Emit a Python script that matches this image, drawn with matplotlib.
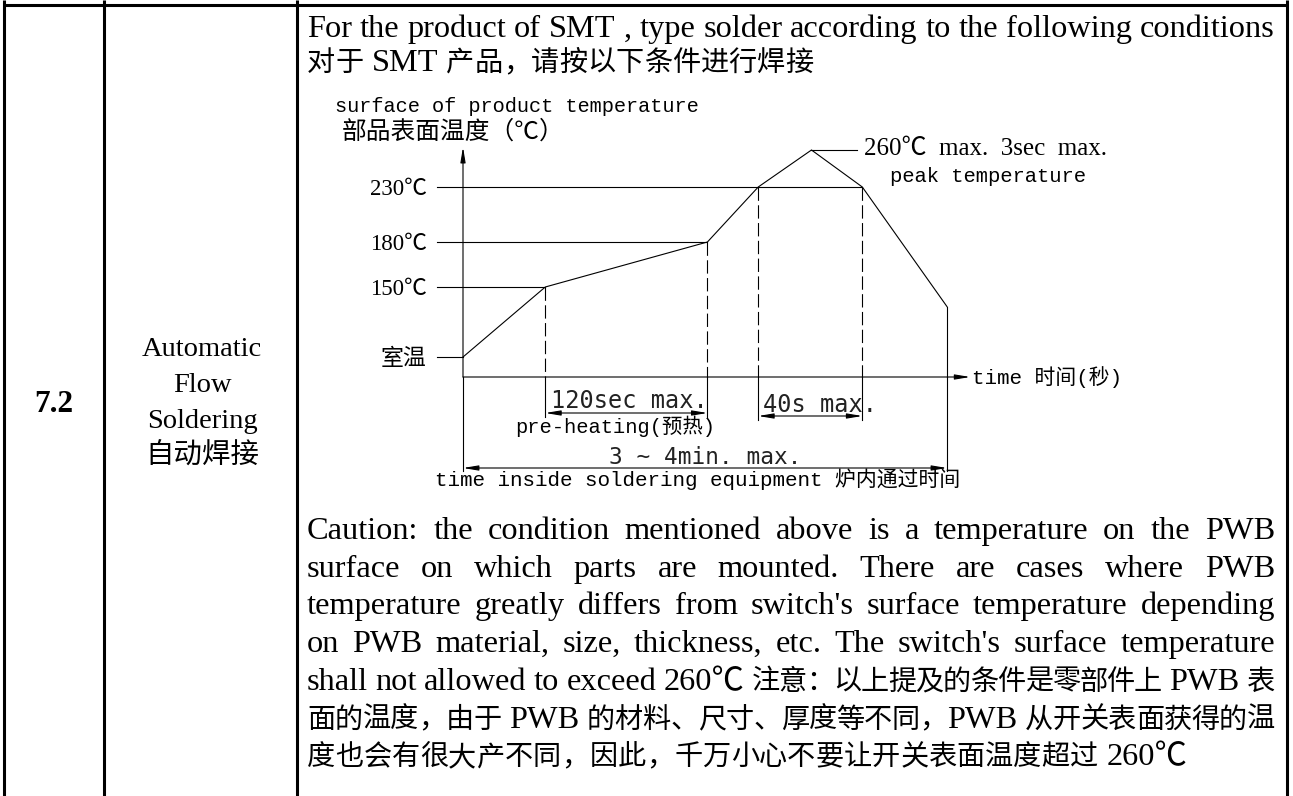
import re
import numpy as np
import matplotlib
matplotlib.use('Agg')
import matplotlib.pyplot as plt
import matplotlib.transforms as mtransforms

# reflow profile: schematic time units (0..100) and temperature (degC)
prof_t = [0, 17, 50.5, 61, 72, 82.5, 100]
prof_T = [25, 150, 180, 230, 260, 230, 115]
level_T = [25, 150, 180, 230]
level_labels = ['室温', '150℃', '180℃', '230℃']
drop_idx = [1, 2, 3, 5]          # points with dashed drop lines
dim_spans = [(17, 50.5), (61, 82.5), (0, 100)]
dim_labels = ['120sec max.', '40s max.', '3 ~ 4min. max.']

# the drawing is not to scale: temperature -> drawn height
scale_T = [0, 25, 150, 180, 230, 260, 300]
scale_h = [0, 20, 90, 135, 190, 227, 276]

header_en = "For the product of SMT , type solder according to the following conditions"
header_cn = "对于 SMT 产品，请按以下条件进行焊接"
caution = [
    "Caution: the condition mentioned above is a temperature on the PWB",
    "surface on which parts are mounted. There are cases where PWB",
    "temperature greatly differs from switch's surface temperature depending",
    "on PWB material, size, thickness, etc. The switch's surface temperature",
    "shall not allowed to exceed 260℃  注意：以上提及的条件是零部件上 PWB 表",
    "面的温度，由于 PWB 的材料、尺寸、厚度等不同，PWB 从开关表面获得的温",
    "度也会有很大产不同，因此，千万小心不要让开关表面温度超过 260℃",
]
left_labels = ['Automatic', 'Flow', 'Soldering', '自动焊接']

W, H = 1293, 796
serif = ['Liberation Serif', 'Noto Sans CJK SC']
mono = ['Liberation Mono', 'Noto Sans CJK SC']
cad = ['DejaVu Sans Mono', 'Noto Sans CJK SC']
cjk = ['Noto Sans CJK SC']

fig = plt.figure(figsize=(W / 100, H / 100), dpi=100)
page = fig.add_axes([0, 0, 1, 1])
page.set_xlim(0, W)
page.set_ylim(H, 0)
page.axis('off')
r = fig.canvas.get_renderer()

# table grid
for x in [4, 104, 297, 1287]:
    page.plot([x, x], [0, H], color='black', lw=2.2, solid_capstyle='butt')
page.plot([4, 1287], [5, 5], color='black', lw=2.2, solid_capstyle='butt')

page.text(54, 405, '7.2', fontsize=22.5, fontweight='bold', family=serif,
          ha='center', va='center')
for lab, y in zip(left_labels, [349, 385, 421, 457]):
    page.text(202, y, lab, fontsize=20.5, family=serif, ha='center', va='center')

CJK = r'[\u3000-\u303f\u4e00-\u9fff\uff00-\uffef]'
LAT, HAN = 23.3, 20.3


def justify(base, line, x0=307, x1=1275, fill=True):
    toks = []
    for word in line.split(' '):
        if not word:
            continue
        parts = re.findall(CJK + '|(?:(?!' + CJK + ').)+', word)
        for pi, p in enumerate(parts):
            toks.append((p, pi == 0 and len(toks) > 0))
    sp = page.text(0, 0, 'a a', fontsize=LAT, family=serif)
    sa = page.text(0, 0, 'aa', fontsize=LAT, family=serif)
    space = sp.get_window_extent(r).width - sa.get_window_extent(r).width
    sp.remove()
    sa.remove()
    objs = []
    for t, _ in toks:
        han = re.fullmatch(CJK, t) is not None
        objs.append(page.text(0, base, t, fontsize=HAN if han else LAT,
                              family=cjk if han else serif, va='baseline'))
    widths = [o.get_window_extent(r).width for o in objs]
    gaps = [space if s else 0 for _, s in toks]
    extra = (x1 - x0) - sum(widths) - sum(gaps)
    add = extra / (len(toks) - 1) if fill and len(toks) > 1 else 0
    x = x0
    for o, w, g in zip(objs, widths, gaps):
        if x > x0:
            x += g + add
        o.set_x(x)
        x += w


justify(37, header_en)
justify(71, header_cn, fill=False)
for i, line in enumerate(caution):
    justify(539 + i * 37.7, line, fill=(i < len(caution) - 1))

# chart
ax = fig.add_axes([463 / W, (H - 377) / H, 484 / W, 227 / H])
ax.set_xlim(0, 100)
ax.set_yscale('function', functions=(lambda v: np.interp(v, scale_T, scale_h),
                                     lambda v: np.interp(v, scale_h, scale_T)))
ax.set_ylim(0, 260)
ax.patch.set_visible(False)
for s in ax.spines.values():
    s.set_visible(False)
ax.set_xticks([])
ax.set_yticks(level_T)
ax.set_yticklabels(level_labels, family=serif, fontsize=16.5)
ax.tick_params(axis='y', length=0, pad=26)
ax.yaxis.set_minor_locator(matplotlib.ticker.NullLocator())

bt = mtransforms.blended_transform_factory(ax.transData, page.transData)
kw = dict(color='black', lw=0.8, clip_on=False)

ax.plot(prof_t, prof_T, **kw)
for lvl in level_T:
    t_end = max(t for t, T in zip(prof_t, prof_T) if T == lvl)
    ax.plot([-5.4, t_end], [lvl, lvl], **kw)
dim_y = [413, 416, 468]
for k, i in enumerate(drop_idx):
    ax.plot([prof_t[i], prof_t[i]], [prof_T[i], 0], ls=(0, (12, 4)), **kw)
    ax.plot([prof_t[i], prof_t[i]], [377, dim_y[k // 2] + 4], transform=bt, **kw)
ax.plot([prof_t[-1], prof_t[-1]], [prof_T[-1], 0], **kw)
for t in [prof_t[0], prof_t[-1]]:
    ax.plot([t, t], [377, dim_y[2] + 3], transform=bt, **kw)
ax.plot([prof_t[4], 81.5], [prof_T[4], prof_T[4]], **kw)

head = dict(color='black', lw=0.8, shrinkA=0, shrinkB=0, mutation_scale=10)
ax.annotate('', xy=(0, 262.4), xytext=(0, 0), annotation_clip=False,
            arrowprops=dict(arrowstyle='-|>,head_length=0.9,head_width=0.15', **head))
ax.annotate('', xy=(104.8, 0), xytext=(0, 0), annotation_clip=False,
            arrowprops=dict(arrowstyle='-|>,head_length=0.9,head_width=0.15', **head))
for (t1, t2), y in zip(dim_spans, dim_y):
    ax.annotate('', xy=(t2, y), xytext=(t1, y), xycoords=bt, textcoords=bt,
                annotation_clip=False,
                arrowprops=dict(arrowstyle='<|-|>,head_length=0.9,head_width=0.15', **head))

# chart texts
page.text(864, 149, '260℃  max.  3sec  max.', fontsize=18, family=serif, va='center')
page.text(890, 177, 'peak temperature', fontsize=14.8, family=mono, va='center')
page.text(335, 107, 'surface of product temperature', fontsize=14.6, family=mono, va='center')
page.text(342, 132, '部品表面温度（℃）', fontsize=17.8, family=cjk, va='center')
page.text(972, 377, 'time 时间(秒)', fontsize=15, family=mono, va='center')
page.text(629, 401, dim_labels[0], fontsize=17, family=cad, ha='center', va='center',
          color='#222222')
page.text(763, 405, dim_labels[1], fontsize=17, family=cad, va='center', color='#222222')
page.text(705, 458, dim_labels[2], fontsize=16.4, family=cad, ha='center', va='center',
          color='#222222')
page.text(615, 426, 'pre-heating(预热)', fontsize=14.7, family=mono, ha='center', va='center')
page.text(435, 479, 'time inside soldering equipment 炉内通过时间', fontsize=15,
          family=mono, va='center')

fig.savefig('out.png', dpi=100)
